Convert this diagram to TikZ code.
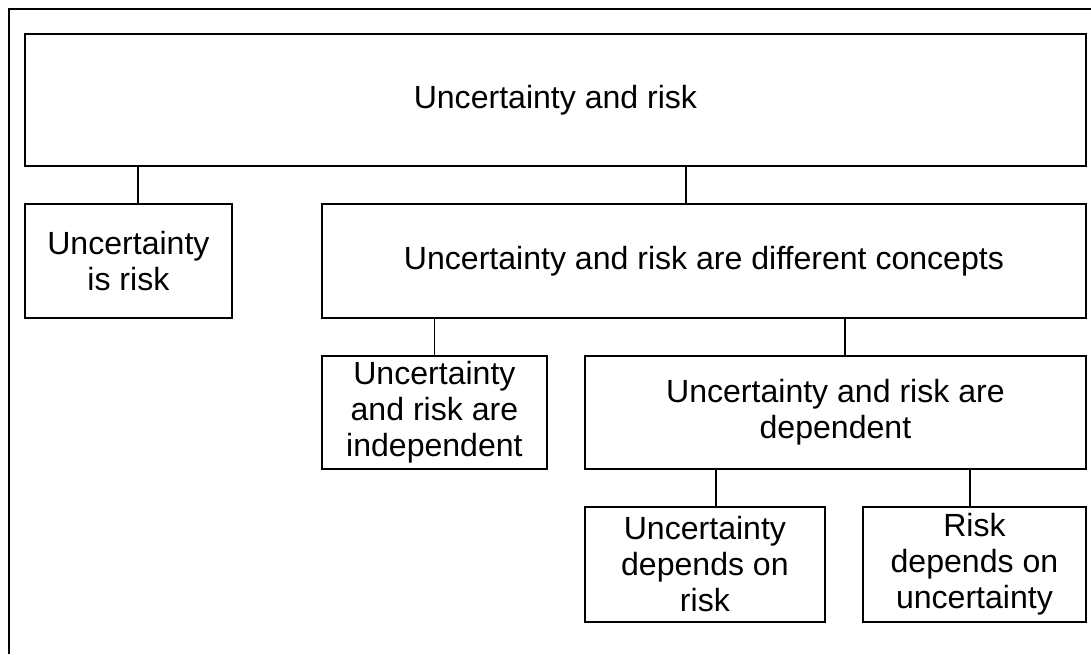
\documentclass[tikz,border=0pt]{standalone}
\usepackage{fontspec}
\setmainfont{Liberation Sans}
\usetikzlibrary{calc}
\begin{document}
\begin{tikzpicture}[x=0.025cm,y=-0.025cm,font=\fontsize{22.8pt}{25.6pt}\selectfont]
    \tikzstyle{box}=[draw,line width=1.3pt,anchor=north west,inner sep=0,align=center]
    \tikzstyle{link}=[draw,line width=1.2pt]
    \useasboundingbox (0,0) rectangle (1091,654);

    % frame
    \draw[line width=1.4pt] (9,654) -- (9,9) -- (1091,9);

    \node(root)[box,minimum width=1061*0.025cm,minimum height=132*0.025cm] at (24,33) {Uncertainty and risk};
    \node(isrisk)[box,minimum width=207*0.025cm,minimum height=114*0.025cm] at (24,203) {Uncertainty\\is risk};
    \node(diff)[box,minimum width=764*0.025cm,minimum height=114*0.025cm] at (321,203) {Uncertainty and risk are different concepts};
    \node(indep)[box,minimum width=225*0.025cm,minimum height=113*0.025cm] at (321,355) {Uncertainty\\and risk are\\independent};
    \node(dep)[box,minimum width=501*0.025cm,minimum height=113*0.025cm] at (584,355) {Uncertainty and risk are\\dependent};
    \node(udr)[box,minimum width=240*0.025cm,minimum height=115*0.025cm] at (584,506) {Uncertainty\\depends on\\risk};
    \node(rdu)[box,minimum width=223*0.025cm,minimum height=115*0.025cm] at (862,506) {Risk\\depends on\\uncertainty};

    % connector feet
    \coordinate (isriskin) at ($(isrisk.north)+(9.5,0)$);
    \coordinate (diffin) at ($(diff.north)+(-18,0)$);
    \coordinate (depin) at ($(dep.north)+(9.5,0)$);
    \coordinate (udrin) at ($(udr.north)+(11,0)$);
    \coordinate (rduin) at ($(rdu.north)+(-4.5,0)$);

    \draw[link] (isriskin) -- (isriskin |- root.south);
    \draw[link] (diffin) -- (diffin |- root.south);
    \draw[link] (indep.north) -- (indep.north |- diff.south);
    \draw[link] (depin) -- (depin |- diff.south);
    \draw[link] (udrin) -- (udrin |- dep.south);
    \draw[link] (rduin) -- (rduin |- dep.south);
\end{tikzpicture}
\end{document}
